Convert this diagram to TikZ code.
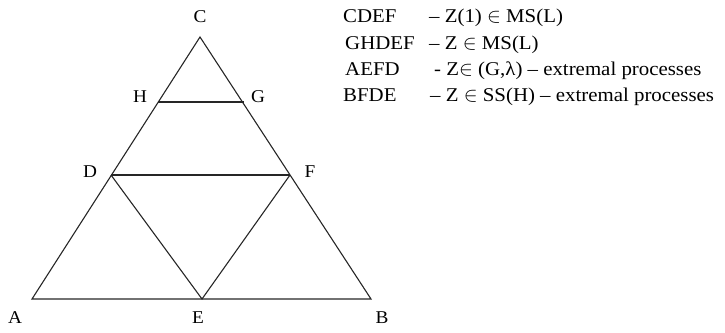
\documentclass[tikz,border=0pt]{standalone}
\usepackage{fontspec}
\setmainfont{Liberation Serif}[FakeStretch=1.07]

\begin{document}
\begin{tikzpicture}[x=1pt, y=-1pt,
  side/.style={line width=1.1pt, black!85},
  vlabel/.style={anchor=base, inner sep=0pt, font=\fontsize{18}{20}\selectfont},
  key/.style={anchor=base west, inner sep=0pt, font=\fontsize{19.5}{22}\selectfont}
]
  \useasboundingbox (0,0) rectangle (725,332);
  % vertices
  \coordinate (c) at (200,37);
  \coordinate (h) at (158,102);
  \coordinate (g) at (244,102);
  \coordinate (d) at (111,175);
  \coordinate (f) at (290,175);
  \coordinate (a) at (32,299);
  \coordinate (e) at (202,299);
  \coordinate (b) at (371,299);
  % triangle and inner lines
  \draw[side] (a) -- (b) -- (c) -- cycle;
  \draw[side] (h) -- (g);
  \draw[side] (d) -- (f);
  \draw[side] (d) -- (e) -- (f);
  % vertex labels
  \node[vlabel] (lc) at (200,23)  {C};
  \node[vlabel] (lh) at (140,102) {H};
  \node[vlabel] (lg) at (258,102) {G};
  \node[vlabel] (ld) at (90,177)  {D};
  \node[vlabel] (lf) at (310,177) {F};
  \node[vlabel] (la) at (15,323)  {A};
  \node[vlabel] (le) at (198,323) {E};
  \node[vlabel] (lb) at (382,323) {B};
  % legend
  \node[key] (k1) at (343,22)  {CDEF};
  \node[key] (k2) at (345,49)  {GHDEF};
  \node[key] (k3) at (345,75)  {AEFD};
  \node[key] (k4) at (343,101) {BFDE};
  \node[key] (t1) at (429,22)  {– Z(1) $\in$ MS(L)};
  \node[key] (t2) at (429,49)  {– Z $\in$ MS(L)};
  \node[key] (t3) at (434,75)  {- Z$\in$ (G,λ) – extremal processes};
  \node[key] (t4) at (430,101) {– Z $\in$ SS(H) – extremal processes};
\end{tikzpicture}
\end{document}
